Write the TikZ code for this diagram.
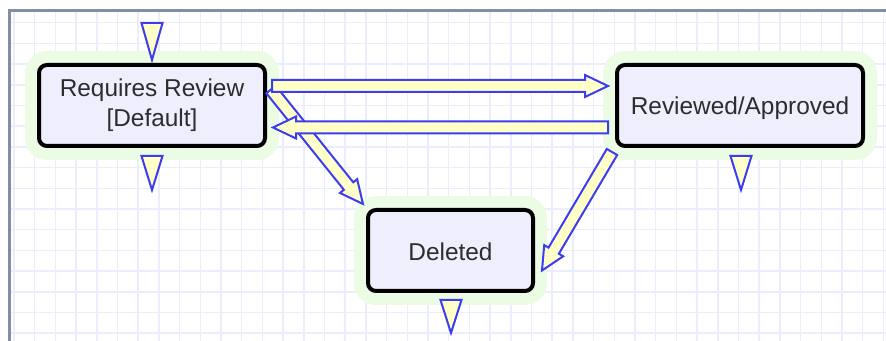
\documentclass[tikz,border=0pt]{standalone}
\usepackage{fontspec}
\setmainfont{Liberation Sans}
\usetikzlibrary{calc}

\definecolor{gridline}{RGB}{236,236,255}
\definecolor{frameline}{RGB}{130,142,162}
\definecolor{glow}{RGB}{236,252,228}
\definecolor{statefill}{RGB}{238,238,252}
\definecolor{flowblue}{RGB}{60,60,240}
\definecolor{flowfill}{RGB}{255,255,200}
\definecolor{labelgray}{RGB}{45,45,45}

\tikzset{
  state/.style={draw=black, line width=3pt, fill=statefill, rounded corners=6pt,
    inner sep=0pt, minimum height=60.75pt, text=labelgray,
    font=\fontsize{18.3}{22.5}\selectfont, align=center,
    preaction={draw=glow, line width=21pt}},
  fat/.style={draw=flowblue, fill=flowfill, line width=1.5pt, line join=miter},
  marker/.style={draw=flowblue, fill=flowfill, line width=1.5pt, line join=miter},
}

% block arrow: #1 tag, #2 start, #3 tip
\newcommand\fatarrow[3]{%
  \path (#3) coordinate (#1e) (#2) coordinate (#1s);
  \path ($(#1e)!17.25pt!(#1s)$) coordinate (#1h);
  \draw[fat] ($(#1s)!4.5pt!90:(#1e)$) -- ($(#1h)!4.5pt!90:(#1e)$)
    -- ($(#1h)!8.25pt!90:(#1e)$) -- (#1e) -- ($(#1h)!8.25pt!-90:(#1e)$)
    -- ($(#1h)!4.5pt!-90:(#1e)$) -- ($(#1s)!4.5pt!-90:(#1e)$) -- cycle;}

\begin{document}
\begin{tikzpicture}[x=0.75pt, y=-0.75pt]
  \useasboundingbox (0,0) rectangle (886,341);

  % sheet grid
  \foreach \i in {0,...,42}
    \draw[gridline, line width=1.1pt] ({14+20.7*\i},12) -- ({14+20.7*\i},341);
  \foreach \j in {1,...,16}
    \draw[gridline, line width=1.1pt] (10,{2+20.7*\j}) -- (886,{2+20.7*\j});

  % sheet frame
  \draw[frameline, line width=2.25pt] (9.5,341) -- (9.5,11) -- (886,11);

  % states
  \node[state, minimum width=169.5pt] (rr) at (152,105.5) {Requires Review\\{}[Default]};
  \node[state, minimum width=184.5pt, text height=17.8pt, text depth=3.9pt]
    (ra) at (740,105.5) {Reviewed/Approved};
  \node[state, minimum width=123.75pt, text height=15.5pt, text depth=0pt]
    (dl) at (450.5,250.5) {Deleted};

  % entry / exit markers
  \draw[marker] ($(rr.north)+(-10.5,-40)$) -- ++(21,0) -- ++(-10.5,37) -- cycle;
  \draw[marker] ($(rr.south)+(-10.5,8)$) -- ++(21,0) -- ++(-10.5,34) -- cycle;
  \draw[marker] ($(ra.south)+(-9.5,8)$) -- ++(21,0) -- ++(-10.5,34) -- cycle;
  \draw[marker] ($(dl.south)+(-10,7)$) -- ++(21,0) -- ++(-10.5,33) -- cycle;

  % transitions
  \fatarrow{c}{$(rr.east)+(4,-16)$}{$(dl.north west)+(-3,-4)$}
  \fatarrow{d}{$(ra.south west)+(-3,4)$}{$(dl.east)+(7,20)$}
  \fatarrow{a}{$(rr.east)+(5,-19.5)$}{$(ra.west)+(-7,-19.5)$}
  \fatarrow{b}{$(ra.west)+(-7,22)$}{$(rr.east)+(6,22)$}
\end{tikzpicture}
\end{document}
